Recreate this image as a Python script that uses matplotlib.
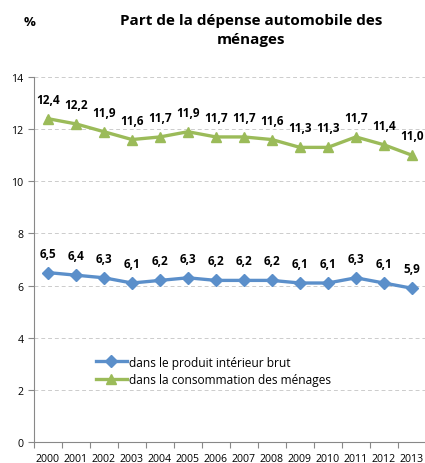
import matplotlib.pyplot as plt

years = [str(y) for y in range(2000, 2014)]
pib = [6.5, 6.4, 6.3, 6.1, 6.2, 6.3, 6.2, 6.2, 6.2, 6.1, 6.1, 6.3, 6.1, 5.9]
conso = [12.4, 12.2, 11.9, 11.6, 11.7, 11.9, 11.7, 11.7, 11.6, 11.3, 11.3, 11.7, 11.4, 11.0]

blue = '#5B8FCA'
green = '#9BBB59'

plt.rcParams['font.family'] = ['Open Sans', 'DejaVu Sans']

fig = plt.figure(figsize=(4.25, 4.64), dpi=100)
ax = fig.add_axes([0.08, 0.045, 0.922, 0.787])

x = list(range(len(years)))
ax.plot(x, pib, color=blue, lw=2.4, marker='D', ms=6, label='dans le produit intérieur brut')
ax.plot(x, conso, color=green, lw=2.4, marker='^', ms=7, label='dans la consommation des ménages')

# data labels above each point
for i in x:
    ax.annotate(f'{pib[i]:.1f}'.replace('.', ','), (i, pib[i]), xytext=(0, 14),
                textcoords='offset points', ha='center', va='center',
                fontsize=8.5, fontweight='bold')
    ax.annotate(f'{conso[i]:.1f}'.replace('.', ','), (i, conso[i]), xytext=(0, 14),
                textcoords='offset points', ha='center', va='center',
                fontsize=8.5, fontweight='bold')

ax.set_xlim(-0.5, 13.5)
ax.set_ylim(0, 14)
ax.set_yticks(range(0, 15, 2))
ax.set_xticks([i - 0.5 for i in range(15)], minor=False)
ax.set_xticklabels([])
ax.set_xticks(x, minor=True)
ax.set_xticklabels(years, minor=True)
ax.tick_params(axis='x', which='minor', length=0, labelsize=7.6, pad=8)
ax.tick_params(axis='x', which='major', length=4, direction='out', color='#888888')
ax.tick_params(axis='y', length=4, direction='out', color='#888888', labelsize=7.6)
ax.grid(axis='y', ls=(0, (4, 3)), color='#CCCCCC', lw=0.7)
ax.set_axisbelow(True)
for s in ['top', 'right']:
    ax.spines[s].set_visible(False)
for s in ['left', 'bottom']:
    ax.spines[s].set_color('#888888')
    ax.spines[s].set_linewidth(0.8)

ax.legend(loc='upper left', bbox_to_anchor=(0.145, 0.25), frameon=False,
          fontsize=8.6, handlelength=2.6, handletextpad=0.2, labelspacing=0.35,
          borderaxespad=0)

fig.text(0.59, 0.97, 'Part de la dépense automobile des\nménages', ha='center',
         va='top', fontsize=11, fontweight='bold', linespacing=1.45)
fig.text(0.055, 0.965, '%', ha='left', va='top', fontsize=9.5, fontweight='bold')

plt.savefig('out.png', dpi=100)
